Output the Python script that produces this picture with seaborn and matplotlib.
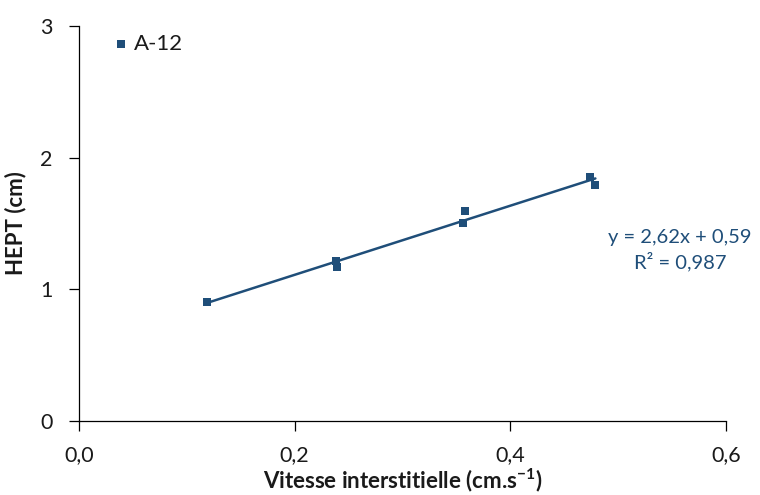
import numpy as np
import pandas as pd
import matplotlib
matplotlib.use('Agg')
import matplotlib.pyplot as plt
import seaborn as sns
from matplotlib.ticker import FuncFormatter

vitesse = [0.119, 0.238, 0.239, 0.356, 0.358, 0.474, 0.479]
hept = [0.906, 1.215, 1.167, 1.506, 1.592, 1.855, 1.794]
serie = 'A-12'
equation = 'y = 2,62x + 0,59'
r2 = 'R² = 0,987'

df = pd.DataFrame({'Vitesse': vitesse, 'HEPT': hept})

sns.set_style('ticks')
plt.rcParams['font.family'] = ['Lato', 'DejaVu Sans']
plt.rcParams['axes.unicode_minus'] = False
bleu = '#1F4E79'
gris = '#1a1a1a'

fig = plt.figure(figsize=(7.6, 4.95), dpi=100)
ax = fig.add_axes([0.104, 0.1495, 0.851, 0.798])

sns.regplot(ax=ax, data=df, x='Vitesse', y='HEPT', ci=None, truncate=True,
            marker='s', color=bleu,
            scatter_kws={'s': 40, 'linewidths': 0, 'alpha': 1},
            line_kws={'lw': 1.8}, label=serie)

ax.set_xlim(0, 0.6)
ax.set_ylim(0, 3)
ax.set_xticks([0, 0.2, 0.4, 0.6])
ax.set_yticks([0, 1, 2, 3])
ax.xaxis.set_major_formatter(FuncFormatter(lambda v, p: f'{v:.1f}'.replace('.', ',')))
ax.yaxis.set_major_formatter(FuncFormatter(lambda v, p: f'{v:.0f}'))
ax.tick_params(labelsize=15.5, length=7, width=0.9, color='black', labelcolor=gris)
ax.tick_params(axis='x', pad=10)
ax.tick_params(axis='y', pad=12)
for s in ['left', 'bottom']:
    ax.spines[s].set_linewidth(0.9)
    ax.spines[s].set_color('black')
sns.despine(ax=ax)

ax.set_xlabel('Vitesse interstitielle (cm.s$^{\\mathregular{-1}}$)', fontsize=16,
              fontweight='bold', labelpad=1, color=gris)
ax.set_ylabel('HEPT (cm)', fontsize=16, fontweight='bold', labelpad=10, color=gris)

handles, labels = ax.get_legend_handles_labels()
ax.legend(handles[:1], labels[:1], loc='center left', bbox_to_anchor=(0.051, 0.954),
          frameon=False, fontsize=16, handletextpad=0.2, handlelength=0.8,
          borderpad=0, borderaxespad=0, markerscale=0.85, labelcolor=gris)

ax.text(0.929, 0.433, equation + '\n' + r2, transform=ax.transAxes, ha='center',
        va='center', color=bleu, fontsize=14.5, linespacing=1.35)

fig.savefig('out.png', dpi=100)
